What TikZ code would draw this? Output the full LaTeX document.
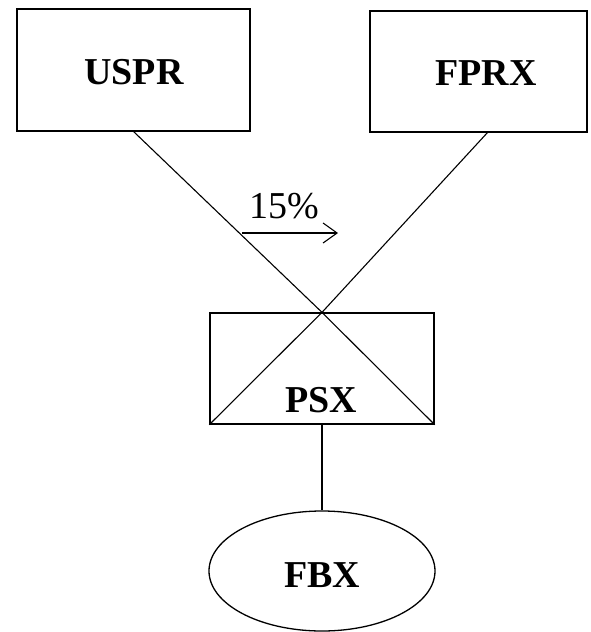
\documentclass[tikz,border=0pt]{standalone}
\usepackage{fontspec}
\setmainfont{Liberation Serif}
\usetikzlibrary{arrows.meta,shapes.geometric}
\begin{document}
\begin{tikzpicture}[x=1pt,y=-1pt,
  box/.style={draw,line width=1.6pt,inner sep=0pt,rectangle},
  lbl/.style={font=\fontsize{38}{40}\selectfont\bfseries,anchor=base,inner sep=0pt},
  link/.style={line width=1.1pt},
  pct/.style={font=\fontsize{38}{40}\selectfont,anchor=base,inner sep=0pt}]
\useasboundingbox (0,0) rectangle (590,632);
\node[box,minimum width=233pt,minimum height=122pt] (USPR) at (133.5,70) {};
\node[box,minimum width=217pt,minimum height=121pt] (FPRX) at (478.5,71.5) {};
\node[box,line width=1.3pt,minimum width=224pt,minimum height=111pt] (PSX) at (322,368.5) {};
\node[draw,ellipse,line width=1.3pt,minimum width=226pt,minimum height=120pt,inner sep=0pt] (FBX) at (322,571) {};
\node[lbl] (tUSPR) at (134,84) {USPR};
\node[lbl] (tFPRX) at (486,85) {FPRX};
\node[lbl] (tPSX) at (321,412) {PSX};
\node[lbl] (tFBX) at (322,587) {FBX};
\coordinate (uS) at (133,131);
\coordinate (fS) at (488,132);
\draw[link] (uS) -- (PSX.north);
\draw[link] (fS) -- (PSX.north);
\draw[link] (PSX.north) -- (PSX.south west);
\draw[link] (PSX.north) -- (PSX.south east);
\draw[line width=1.8pt] (PSX.south) -- (FBX.north);
\coordinate (a1) at (242,233);
\coordinate (a2) at (338,233);
\draw[line width=1.1pt,-{Straight Barb[length=14pt,width=20pt,line width=1.1pt]}] (a1) -- (a2);
\node[pct] (p15) at (284,218) {15\%};
\end{tikzpicture}
\end{document}
